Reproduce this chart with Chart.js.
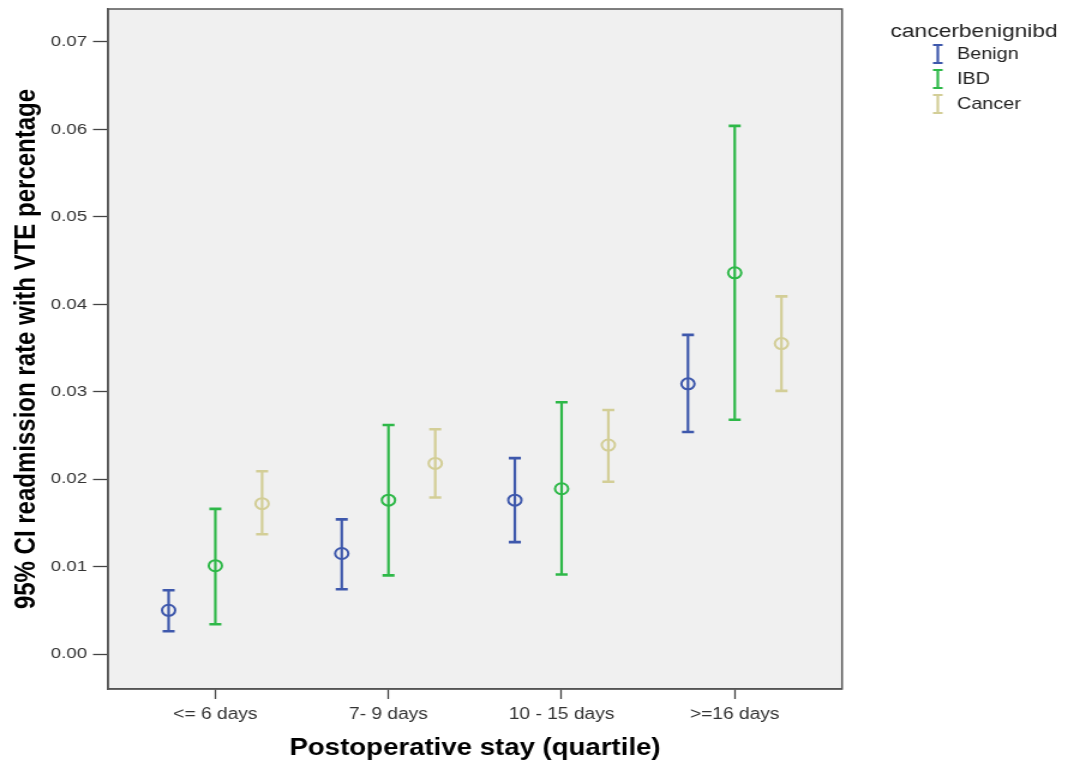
<!DOCTYPE html>
<html>
<head>
<meta charset="utf-8">
<title>VTE readmission by postoperative stay</title>
<script src="https://cdn.jsdelivr.net/npm/chart.js@4.4.1/dist/chart.umd.min.js"></script>
<style>
  html, body { margin: 0; padding: 0; background: #fff; overflow: hidden; }
  /* the chart is laid out 892px wide and stretched out to the full 1070px */
  #wrap { width: 892px; height: 765px; transform: scaleX(1.2); transform-origin: 0 0; }
</style>
</head>
<body>
<div id="wrap"><canvas id="chart" width="892" height="765"></canvas></div>
<script>
const stayLabels = ['<= 6 days', '7- 9 days', '10 - 15 days', '>=16 days'];
const groupNames = ['Benign', 'IBD', 'Cancer'];
const groupColors = ['#3e58ac', '#2eb848', '#d3ce97'];
//horizontal shift of each group inside a quartile
const groupOffsets = [-0.27, 0, 0.27];

//mean readmission rate and 95% CI per quartile
const benignMean = [0.0050, 0.0115, 0.0176, 0.0309];
const benignLow = [0.0026, 0.0074, 0.0128, 0.0254];
const benignHigh = [0.0073, 0.0154, 0.0224, 0.0365];

const ibdMean = [0.0101, 0.0176, 0.0189, 0.0436];
const ibdLow = [0.0034, 0.0090, 0.0091, 0.0268];
const ibdHigh = [0.0166, 0.0262, 0.0288, 0.0604];

const cancerMean = [0.0172, 0.0218, 0.0239, 0.0355];
const cancerLow = [0.0137, 0.0179, 0.0197, 0.0301];
const cancerHigh = [0.0209, 0.0257, 0.0279, 0.0409];

const yTicks = [0, 0.01, 0.02, 0.03, 0.04, 0.05, 0.06, 0.07];

const means = [benignMean, ibdMean, cancerMean];
const lows = [benignLow, ibdLow, cancerLow];
const highs = [benignHigh, ibdHigh, cancerHigh];

const FONT = 'Liberation Sans, Arial, sans-serif';

//grey plot panel behind everything, dark frame on top
const panelPlugin = {
  id: 'panel',
  beforeDraw(chart) {
    const { ctx, chartArea: a } = chart;
    ctx.save();
    ctx.fillStyle = '#f0f0f0';
    ctx.fillRect(a.left, a.top, a.right - a.left, a.bottom - a.top);
    ctx.restore();
  },
  afterDraw(chart) {
    const { ctx, chartArea: a } = chart;
    ctx.save();
    ctx.strokeStyle = '#555';
    ctx.lineWidth = 1.5;
    ctx.strokeRect(a.left, a.top, a.right - a.left, a.bottom - a.top);
    ctx.restore();
  }
};

//vertical CI whiskers with caps, drawn from the low/high values
const whiskerPlugin = {
  id: 'whiskers',
  beforeDatasetsDraw(chart) {
    const { ctx } = chart;
    const y = chart.scales.y;
    ctx.save();
    chart.data.datasets.forEach((ds, d) => {
      const meta = chart.getDatasetMeta(d);
      ctx.strokeStyle = ds.borderColor;
      meta.data.forEach((pt, i) => {
        const raw = ds.data[i];
        const top = y.getPixelForValue(raw.high);
        const bottom = y.getPixelForValue(raw.low);
        ctx.lineWidth = 2.2;
        ctx.beginPath();
        ctx.moveTo(pt.x, top);
        ctx.lineTo(pt.x, bottom);
        ctx.stroke();
        ctx.lineWidth = 2.6;
        ctx.beginPath();
        ctx.moveTo(pt.x - 5, top);
        ctx.lineTo(pt.x + 5, top);
        ctx.moveTo(pt.x - 5, bottom);
        ctx.lineTo(pt.x + 5, bottom);
        ctx.stroke();
      });
    });
    ctx.restore();
  }
};

//legend with I-beam keys on the right
const legendPlugin = {
  id: 'ciLegend',
  afterDraw(chart) {
    const { ctx } = chart;
    ctx.save();
    ctx.fillStyle = '#222';
    ctx.textBaseline = 'middle';
    ctx.font = '19px ' + FONT;
    ctx.fillText('cancerbenignibd', 742, 32);
    ctx.font = '16.5px ' + FONT;
    chart.data.datasets.forEach((ds, d) => {
      const cy = 54 + d * 25;
      const cx = 781.5;
      ctx.strokeStyle = ds.borderColor;
      ctx.lineWidth = 2.2;
      ctx.beginPath();
      ctx.moveTo(cx, cy - 9);
      ctx.lineTo(cx, cy + 9);
      ctx.moveTo(cx - 4, cy - 9);
      ctx.lineTo(cx + 4, cy - 9);
      ctx.moveTo(cx - 4, cy + 9);
      ctx.lineTo(cx + 4, cy + 9);
      ctx.stroke();
      ctx.fillStyle = '#222';
      ctx.fillText(ds.label, 797.5, cy);
    });
    ctx.restore();
  }
};

const datasets = groupNames.map((name, g) => ({
  label: name,
  data: stayLabels.map((_, i) => ({
    x: i + groupOffsets[g],
    y: means[g][i],
    low: lows[g][i],
    high: highs[g][i]
  })),
  borderColor: groupColors[g],
  backgroundColor: 'rgba(0,0,0,0)',
  pointStyle: 'circle',
  pointRadius: 5.5,
  pointBorderWidth: 2,
  pointHoverRadius: 5.5
}));

new Chart(document.getElementById('chart'), {
  type: 'scatter',
  data: { datasets: datasets },
  plugins: [panelPlugin, whiskerPlugin, legendPlugin],
  options: {
    responsive: false,
    devicePixelRatio: 1,
    animation: false,
    events: [],
    layout: { padding: { top: 9, right: 190.3, bottom: 0, left: 0 } },
    plugins: {
      legend: { display: false },
      tooltip: { enabled: false }
    },
    scales: {
      x: {
        type: 'linear',
        min: -0.62,
        max: 3.62,
        afterFit: scale => {
          scale.height = 76;
          scale.paddingLeft = 0;
          scale.paddingRight = 0;
        },
        afterBuildTicks: scale => {
          scale.ticks = stayLabels.map((_, i) => ({ value: i }));
        },
        ticks: {
          callback: v => stayLabels[Math.round(v)],
          font: { family: FONT, size: 16 },
          color: '#333',
          padding: 6,
          maxRotation: 0,
          autoSkip: false
        },
        grid: {
          drawOnChartArea: false,
          tickLength: 10,
          tickColor: '#444',
          tickWidth: 1.3
        },
        border: { display: true, color: '#555', width: 1.5 },
        title: {
          display: true,
          text: 'Postoperative stay (quartile)',
          font: { family: FONT, size: 23, weight: 'bold' },
          color: '#000',
          padding: { top: 0, bottom: 3 }
        }
      },
      y: {
        type: 'linear',
        min: -0.004,
        max: 0.07377,
        afterFit: scale => {
          scale.width = 90;
          scale.paddingTop = 0;
          scale.paddingBottom = 0;
        },
        afterBuildTicks: scale => {
          scale.ticks = yTicks.map(v => ({ value: v }));
        },
        ticks: {
          callback: v => v.toFixed(2),
          font: { family: FONT, size: 15.5 },
          color: '#333',
          padding: 5
        },
        grid: {
          drawOnChartArea: false,
          tickLength: 12.5,
          tickColor: '#444',
          tickWidth: 1.3
        },
        border: { display: true, color: '#555', width: 1.5 },
        title: {
          display: true,
          text: '95% CI readmission rate with VTE percentage',
          font: { family: FONT, size: 24, weight: 'bold' },
          color: '#000',
          padding: { top: 8, bottom: 0 }
        }
      }
    }
  }
});
</script>
</body>
</html>
